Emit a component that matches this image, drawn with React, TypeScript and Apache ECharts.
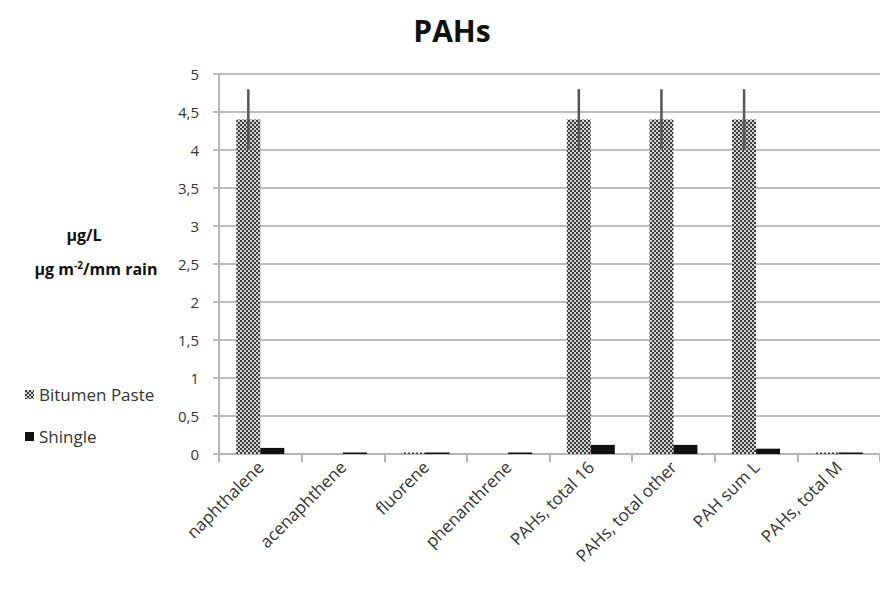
import React, { useEffect, useRef } from "react";
import * as echarts from "echarts";

const categories = [
  "naphthalene",
  "acenaphthene",
  "fluorene",
  "phenanthrene",
  "PAHs, total 16",
  "PAHs, total other",
  "PAH sum L",
  "PAHs, total M",
];
const bitumenValues = [4.4, 0, 0.02, 0, 4.4, 4.4, 4.4, 0.02];
const bitumenErrLow = [4.0, 0, 0.02, 0, 4.0, 4.0, 4.0, 0.02];
const bitumenErrHigh = [4.8, 0, 0.02, 0, 4.8, 4.8, 4.8, 0.02];
const shingleValues = [0.08, 0.02, 0.02, 0.02, 0.12, 0.12, 0.07, 0.02];
const yTicks = [0, 0.5, 1, 1.5, 2, 2.5, 3, 3.5, 4, 4.5, 5];

function makePattern(): string {
  const c = document.createElement("canvas");
  c.width = 4;
  c.height = 4;
  const ctx = c.getContext("2d")!;
  ctx.fillStyle = "#d4d4d4";
  ctx.fillRect(0, 0, 4, 4);
  ctx.fillStyle = "#3c3c3c";
  ctx.fillRect(0, 0, 2, 2);
  ctx.fillRect(2, 2, 2, 2);
  return c.toDataURL();
}

export default function App() {
  const ref = useRef<HTMLDivElement>(null);
  useEffect(() => {
    if (!ref.current) return;
    const chart = echarts.init(ref.current, null, { renderer: "svg" });
    const pattern = makePattern();
    const font = "'Open Sans', 'Liberation Sans', sans-serif";
    const barW = 24;
    chart.setOption({
      animation: false,
      textStyle: { fontFamily: font },
      title: {
        text: "PAHs",
        left: 447,
        top: 10,
        textAlign: "center",
        textStyle: { fontSize: 30, fontWeight: "bold", color: "#111", fontFamily: font },
      },
      legend: {
        orient: "vertical",
        left: 20,
        top: 381,
        itemGap: 25,
        itemWidth: 9,
        itemHeight: 9,
        textStyle: { fontSize: 17, color: "#333", fontFamily: font },
        data: [
          { name: "Bitumen Paste", icon: "rect" },
          { name: "Shingle", icon: "rect" },
        ],
      },
      graphic: [
        {
          type: "text",
          x: 84,
          y: 235,
          style: {
            text: "µg/L",
            font: `bold 16px ${font}`,
            fill: "#111",
            align: "center",
            verticalAlign: "middle",
          },
        },
        {
          type: "text",
          x: 96,
          y: 268,
          style: {
            text: "{a|µg m}{s|-2}{a|/mm rain}",
            fill: "#111",
            align: "center",
            verticalAlign: "middle",
            rich: {
              a: { fontSize: 16, fontWeight: "bold", fontFamily: font, fill: "#111", verticalAlign: "bottom" },
              s: { fontSize: 10, fontWeight: "bold", fontFamily: font, fill: "#111", verticalAlign: "top", padding: [0, 0, 7, 0] },
            },
          },
        },
      ],
      grid: { left: 219, width: 667, top: 74, bottom: 139 },
      xAxis: {
        type: "category",
        data: categories,
        axisLine: { lineStyle: { color: "#b5b5b5", width: 2 } },
        axisTick: { show: true, length: 8, lineStyle: { color: "#b5b5b5", width: 2 } },
        axisLabel: {
          rotate: 45,
          interval: 0,
          fontSize: 17,
          color: "#333",
          margin: 10,
          fontFamily: font,
        },
      },
      yAxis: {
        type: "value",
        min: 0,
        max: 5,
        interval: 0.5,
        axisLine: { show: true, lineStyle: { color: "#b5b5b5", width: 2 } },
        axisTick: { show: true, length: 6, lineStyle: { color: "#bdbdbd", width: 2 } },
        splitLine: { lineStyle: { color: "#bdbdbd", width: 2 } },
        axisLabel: {
          fontSize: 15,
          color: "#333",
          margin: 20,
          fontFamily: font,
          formatter: (v: number) => (yTicks.includes(v) ? String(v).replace(".", ",") : ""),
        },
      },
      series: [
        {
          name: "Bitumen Paste",
          type: "bar",
          data: bitumenValues,
          barWidth: barW,
          barGap: "0%",
          itemStyle: { color: { image: pattern, repeat: "repeat" } as any },
        },
        {
          name: "Shingle",
          type: "bar",
          data: shingleValues,
          barWidth: barW,
          barGap: "0%",
          itemStyle: { color: "#111" },
        },
        {
          name: "err",
          type: "custom",
          data: categories.map((_, i) => [i, bitumenErrLow[i], bitumenErrHigh[i]]),
          z: 10,
          tooltip: { show: false },
          renderItem: (params: any, api: any) => {
            const i = api.value(0);
            const lo = api.coord([i, api.value(1)]);
            const hi = api.coord([i, api.value(2)]);
            if (api.value(2) - api.value(1) <= 0) return { type: "group", children: [] };
            const x = lo[0] - barW / 2;
            return {
              type: "line",
              shape: { x1: x, y1: lo[1], x2: x, y2: hi[1] },
              style: { stroke: "#555", lineWidth: 2.5 },
            };
          },
        },
      ],
    });
    return () => chart.dispose();
  }, []);
  return (
    <div
      ref={ref}
      style={{ position: "absolute", left: 0, top: 0, width: 880, height: 593 }}
    />
  );
}
